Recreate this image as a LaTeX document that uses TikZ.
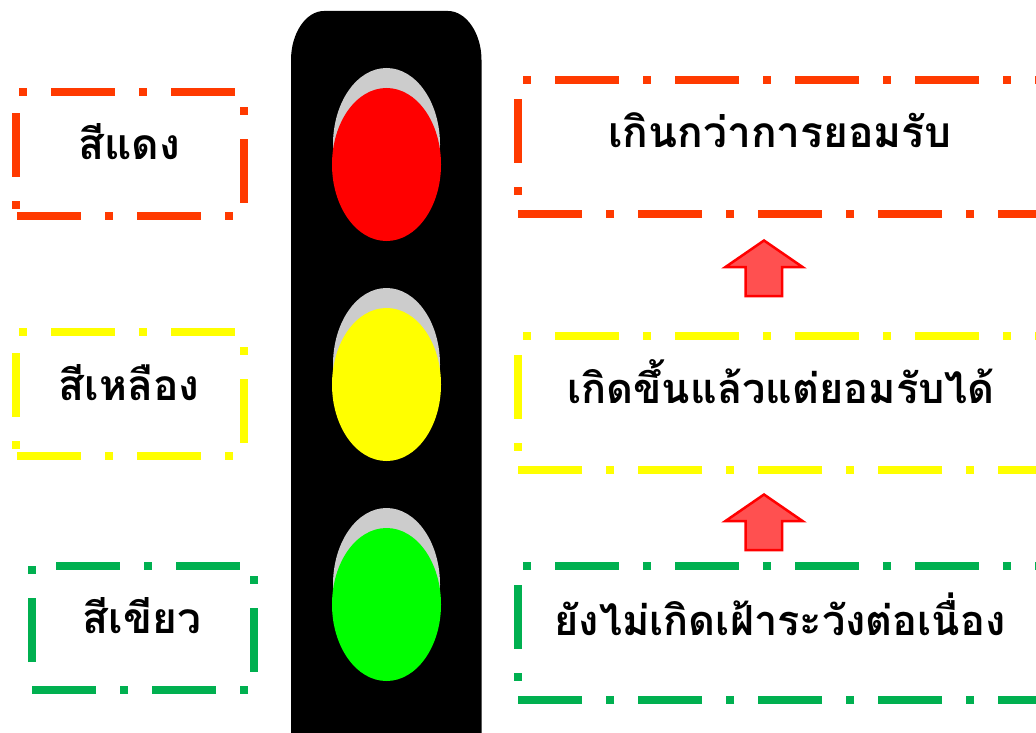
\documentclass[tikz,border=0pt]{standalone}
\usepackage{fontspec}
\newfontfamily\thaifont[Script=Thai]{Loma}
\definecolor{rimred}{HTML}{FF3A00}
\definecolor{rimyellow}{HTML}{FFFF00}
\definecolor{rimgreen}{HTML}{00B050}
\definecolor{lampgray}{HTML}{CCCCCC}
\definecolor{lampred}{HTML}{FF0000}
\definecolor{lampgreen}{HTML}{00FF00}
\definecolor{arrowfill}{HTML}{FF5050}
\tikzset{
  rim/.style = {line width = 8pt, dash pattern = on 64pt off 24pt on 8pt off 24pt},
  label/.style = {anchor = base, font = \thaifont\bfseries\fontsize{42.5}{46}\selectfont},
  longlabel/.style = {anchor = base, font = \thaifont\bfseries\fontsize{41.5}{46}\selectfont},
  uparrow/.style = {draw = lampred, fill = arrowfill, line width = 2.5pt}
}

\begin{document}
\begin{tikzpicture}[x = 1pt, y = -1pt]
    \clip (0, 0) rectangle (1036, 733);
    \fill[black] (291, 60) .. controls (291, 33) and (306, 11) .. (324, 11) -- (448, 11) .. controls (466, 11) and (481.5, 33) .. (481.5, 60) -- (481.5, 740) -- (291, 740) -- cycle;
    \foreach \lampy/\lampcolor in {88/lampred, 308/rimyellow, 528/lampgreen} {
      \fill[lampgray] (386.5, \lampy - 20 + 76.5) ellipse [x radius = 53.5, y radius = 76.5];
      \fill[\lampcolor] (386.5, \lampy + 76.5) ellipse [x radius = 54.5, y radius = 76.5];
    }
    \node[label] (Red Name) at (129, 160) {สีแดง};
    \node[label] (Yellow Name) at (129, 400) {สีเหลือง};
    \node[label] (Green Name) at (142, 633) {สีเขียว};
    \node[label] (Red Meaning) at (780, 148) {เกินกว่าการยอมรับ};
    \node[longlabel] (Yellow Meaning) at (781, 403) {เกิดขึ้นแล้วแต่ยอมรับได้};
    \node[longlabel] (Green Meaning) at (780, 635) {ยังไม่เกิดเฝ้าระวังต่อเนื่อง};
    \draw[rim, rimred, dash phase = 80.7pt] (16, 216) -- (16, 92) -- (244, 92) -- (244, 216) -- cycle;
    \draw[rim, rimyellow, dash phase = 80.7pt] (16, 456) -- (16, 332) -- (244, 332) -- (244, 456) -- cycle;
    \draw[rim, rimgreen, dash phase = 96pt] (32, 566) -- (254, 566) -- (254, 690) -- (32, 690);
    \draw[rim, rimgreen] (32, 662) -- (32, 566);
    \draw[rim, rimred, dash phase = 68.7pt] (518, 214) -- (518, 80) -- (1041.65, 80) -- (1041.65, 214) -- cycle;
    \draw[rim, rimyellow, dash phase = 68.7pt] (518, 470) -- (518, 336) -- (1041.65, 336) -- (1041.65, 470) -- cycle;
    \draw[rim, rimgreen, dash phase = 68.7pt] (518, 700) -- (518, 566) -- (1041.65, 566) -- (1041.65, 700) -- cycle;
    \foreach \arrowy in {0, 254} {
      \draw[uparrow, yshift = -\arrowy pt] (764, 240.5) -- (802.5, 267) -- (782, 267) -- (782, 296) -- (745.5, 296) -- (745.5, 267) -- (725.5, 267) -- cycle;
    }
  \end{tikzpicture}
\end{document}
